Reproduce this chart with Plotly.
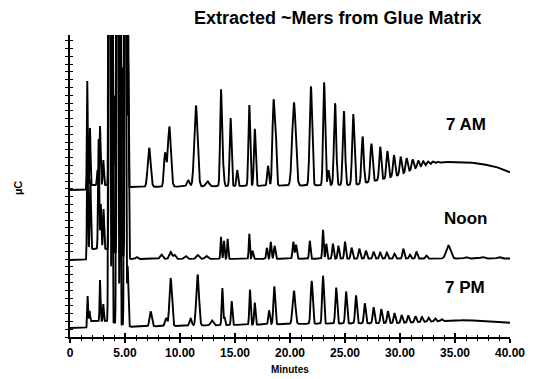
import numpy as np
import plotly.graph_objects as go

# ---------------- data ----------------
# x: retention time (minutes); y: detector response (arbitrary µC units, traces stacked)
x_ticks = [0, 5, 10, 15, 20, 25, 30, 35, 40]
x_tick_labels = ["0", "5.00", "10.00", "15.00", "20.00", "25.00", "30.00", "35.00", "40.00"]
trace_names = ["7 AM", "Noon", "7 PM"]

# 7 AM: baseline knots and peak table (time, height, width)
am_base_t = [0, 1.5, 1.55, 3.4, 5.5, 26.0, 28.5, 30.0, 31.5, 32.7, 34.0, 36.0, 37.0, 38.5, 40.0]
am_base_y = [147, 147, 152, 152, 150, 152, 158, 162, 169, 172.5, 175, 175, 173.7, 171, 164.7]
am_peak_t = [1.57, 1.82, 2.5, 2.73, 3.03,
             3.52, 3.6, 3.68, 3.85, 4.05, 4.25, 4.33, 4.42, 4.58, 4.75, 4.97, 5.05, 5.12, 5.26,
             7.2, 8.64, 9.03, 10.75, 11.45, 12.5, 13.73, 13.95, 14.6, 15.2, 16.3, 16.8,
             18.0, 18.5, 18.7, 20.36, 21.9, 23.1, 23.5, 24.1, 24.9, 25.75, 26.6, 27.4,
             28.2, 28.85, 29.45, 30.06, 30.6, 31.15, 31.66, 32.1, 32.55, 33.0, 33.4]
am_peak_h = [104, 57, 15, 59, 25,
             420, 250, 380, 400, 90, 420, 260, 360, 400, 119, 420, 260, 380, 300,
             39, 33, 60, 6, 81, 5, 97, 18, 68, 16, 81, 57,
             20, 84, 50, 83, 99, 103, 15, 82, 74, 71, 47, 38,
             33, 27, 21.5, 18, 14, 10, 7, 5, 3.5, 2.5, 1.5]
am_peak_w = [0.04, 0.04, 0.05, 0.05, 0.05,
             0.035, 0.035, 0.035, 0.035, 0.05, 0.035, 0.035, 0.035, 0.035, 0.05, 0.035, 0.035, 0.035, 0.04,
             0.13, 0.10, 0.14, 0.12, 0.15, 0.15, 0.08, 0.06, 0.08, 0.07, 0.08, 0.08,
             0.08, 0.10, 0.08, 0.16, 0.11, 0.09, 0.07, 0.10, 0.10, 0.10, 0.10, 0.10,
             0.09, 0.09, 0.09, 0.09, 0.09, 0.09, 0.09, 0.09, 0.09, 0.10, 0.10]

# Noon
noon_base_t = [0, 1.5, 1.55, 3.4, 5.5, 40.0]
noon_base_y = [77, 77, 88, 88, 78, 78.5]
noon_peak_t = [1.58, 1.85, 2.6, 2.8, 3.05,
               3.55, 3.63, 3.72, 3.88, 4.28, 4.37, 4.45, 4.62, 5.0, 5.08, 5.15, 5.28,
               6.06, 8.3, 9.15, 9.5, 10.5, 11.6, 12.4, 13.73, 14.0, 14.33, 16.3, 16.6,
               17.9, 18.25, 18.6, 20.3, 20.55, 21.8, 23.0, 23.3, 23.9, 24.4, 25.0, 25.6,
               26.3, 26.9, 27.6, 28.2, 28.8, 29.5, 30.3, 30.9, 31.5, 32.4, 34.4, 36.0, 37.5, 39.0]
noon_peak_h = [120, 70, 110, 45, 40,
               400, 260, 350, 380, 400, 260, 330, 380, 400, 260, 330, 200,
               2, 4.5, 7, 4, 3, 4, 3, 22, 18, 20, 25, 8,
               11, 17, 13, 17, 14, 18, 29, 15, 15, 13, 17, 11,
               10, 8, 7, 6, 6, 5, 10, 4, 7, 3, 13, 1.5, 1.5, 1.5]
noon_peak_w = [0.04, 0.05, 0.05, 0.05, 0.05,
               0.035, 0.035, 0.035, 0.035, 0.035, 0.035, 0.035, 0.035, 0.035, 0.035, 0.035, 0.05,
               0.10, 0.12, 0.12, 0.10, 0.12, 0.12, 0.12, 0.05, 0.05, 0.05, 0.05, 0.06,
               0.06, 0.06, 0.07, 0.07, 0.07, 0.06, 0.06, 0.06, 0.07, 0.07, 0.07, 0.08,
               0.08, 0.08, 0.08, 0.08, 0.08, 0.08, 0.08, 0.08, 0.08, 0.08, 0.20, 0.15, 0.15, 0.15]

# 7 PM
pm_base_t = [0, 1.5, 1.55, 3.4, 5.5, 20.0, 30.0, 36.0, 40.0]
pm_base_y = [9, 9, 16, 16, 10.3, 13, 14, 17, 14.3]
pm_peak_t = [1.6, 1.78, 2.73, 3.03,
             3.5, 3.58, 3.66, 3.82, 4.22, 4.3, 4.38, 4.55, 4.93, 5.0, 5.08, 5.24,
             7.33, 8.73, 9.15, 10.97, 11.6, 12.9, 13.85, 14.05, 14.7, 16.36, 16.8,
             18.1, 18.57, 20.36, 21.97, 23.0, 24.2, 25.1, 26.0, 26.8, 27.6, 28.3,
             28.9, 29.5, 30.15, 30.75, 31.4, 32.0, 32.6, 33.2, 33.8]
pm_peak_h = [25, 10, 41, 17,
             380, 260, 400, 360, 400, 260, 380, 360, 400, 260, 360, 60,
             15, 8, 48, 7, 51, 5, 37, 8, 24, 35, 22,
             14, 38, 33, 43, 48, 36, 32, 28, 20, 16, 14,
             12, 10, 8, 7, 6, 5, 4, 3, 2]
pm_peak_w = [0.04, 0.04, 0.04, 0.04,
             0.035, 0.035, 0.035, 0.035, 0.035, 0.035, 0.035, 0.035, 0.035, 0.035, 0.035, 0.06,
             0.10, 0.10, 0.11, 0.10, 0.12, 0.12, 0.06, 0.05, 0.06, 0.06, 0.06,
             0.07, 0.08, 0.12, 0.09, 0.08, 0.08, 0.08, 0.08, 0.08, 0.08, 0.08,
             0.08, 0.08, 0.08, 0.08, 0.08, 0.08, 0.08, 0.08, 0.08]


def chromatogram(base_t, base_y, peak_t, peak_h, peak_w, t):
    y = np.interp(t, base_t, base_y)
    for c, h, w in zip(peak_t, peak_h, peak_w):
        y = y + h * np.exp(-0.5 * ((t - c) / w) ** 2)
    return y


t = np.linspace(0, 40, 4001)
series = [
    chromatogram(am_base_t, am_base_y, am_peak_t, am_peak_h, am_peak_w, t),
    chromatogram(noon_base_t, noon_base_y, noon_peak_t, noon_peak_h, noon_peak_w, t),
    chromatogram(pm_base_t, pm_base_y, pm_peak_t, pm_peak_h, pm_peak_w, t),
]

fig = go.Figure()
for name, y in zip(trace_names, series):
    fig.add_trace(go.Scatter(x=t, y=y, mode="lines", name=name,
                             line=dict(color="black", width=1.9), hoverinfo="skip"))
# invisible trace so the overlay (inside-tick) axes are drawn
fig.add_trace(go.Scatter(x=[0], y=[0], xaxis="x2", yaxis="y2", mode="markers",
                         marker=dict(opacity=0), showlegend=False, hoverinfo="skip"))

FONT = "Liberation Sans, Arial, sans-serif"
YMAX = 302

# the page body adds an 8 px offset, so the figure is 8 px smaller than the window
fig.update_layout(
    width=528, height=371,
    margin=dict(l=62, r=26, t=27, b=42),
    paper_bgcolor="white", plot_bgcolor="white",
    showlegend=False,
    xaxis=dict(range=[0, 40], showgrid=False, zeroline=False,
               showline=True, linecolor="black", linewidth=1.8,
               ticks="outside", ticklen=4, tickwidth=1.5, tickcolor="black",
               tickvals=x_ticks, ticktext=x_tick_labels,
               tickfont=dict(family=FONT, size=12, color="black", weight="bold"),
               minor=dict(dtick=1, ticks="outside", ticklen=2.5, tickwidth=1.3, tickcolor="black",
                          showgrid=False)),
    xaxis2=dict(range=[0, 40], overlaying="x", anchor="y", side="bottom",
                showgrid=False, zeroline=False, showline=False,
                ticks="inside", ticklen=4, tickwidth=1.5, tickcolor="black",
                tickvals=x_ticks, showticklabels=False,
                minor=dict(dtick=1, ticks="inside", ticklen=2.5, tickwidth=1.3, tickcolor="black",
                           showgrid=False)),
    yaxis=dict(range=[0, YMAX], showgrid=False, zeroline=False,
               showline=True, linecolor="black", linewidth=1.8,
               ticks="outside", ticklen=3, tickwidth=1.3, tickcolor="black",
               tick0=0, dtick=7.8, showticklabels=False),
    yaxis2=dict(range=[0, YMAX], overlaying="y", anchor="x", side="left",
                showgrid=False, zeroline=False, showline=False,
                ticks="inside", ticklen=3, tickwidth=1.3, tickcolor="black",
                tick0=0, dtick=7.8, showticklabels=False),
)


# helpers: window pixel position -> paper coordinates of the plot area (70..510, 35..337)
def px_x(px):
    return (px - 70) / 440.0


def px_y(py):
    return (337 - py) / 302.0


ann = [
    dict(text="Extracted ~Mers from Glue Matrix", x=px_x(338), y=px_y(18), size=18),
    dict(text="7 AM", x=px_x(466), y=px_y(125), size=17),
    dict(text="Noon", x=px_x(465), y=px_y(218), size=17),
    dict(text="7 PM", x=px_x(465), y=px_y(287), size=17),
    dict(text="Minutes", x=px_x(290), y=px_y(369), size=10),
]
for a in ann:
    fig.add_annotation(text=a["text"], x=a["x"], y=a["y"], xref="paper", yref="paper",
                       xanchor="center", yanchor="middle", showarrow=False,
                       height=a["size"] + 2, borderpad=0,
                       font=dict(family=FONT, size=a["size"], color="black", weight="bold"))
fig.add_annotation(text="µC", x=px_x(18), y=px_y(188), xref="paper", yref="paper",
                   xanchor="center", yanchor="middle", showarrow=False, textangle=-90,
                   font=dict(family=FONT, size=11, color="black", weight="bold"))

fig.write_html("out.html")
